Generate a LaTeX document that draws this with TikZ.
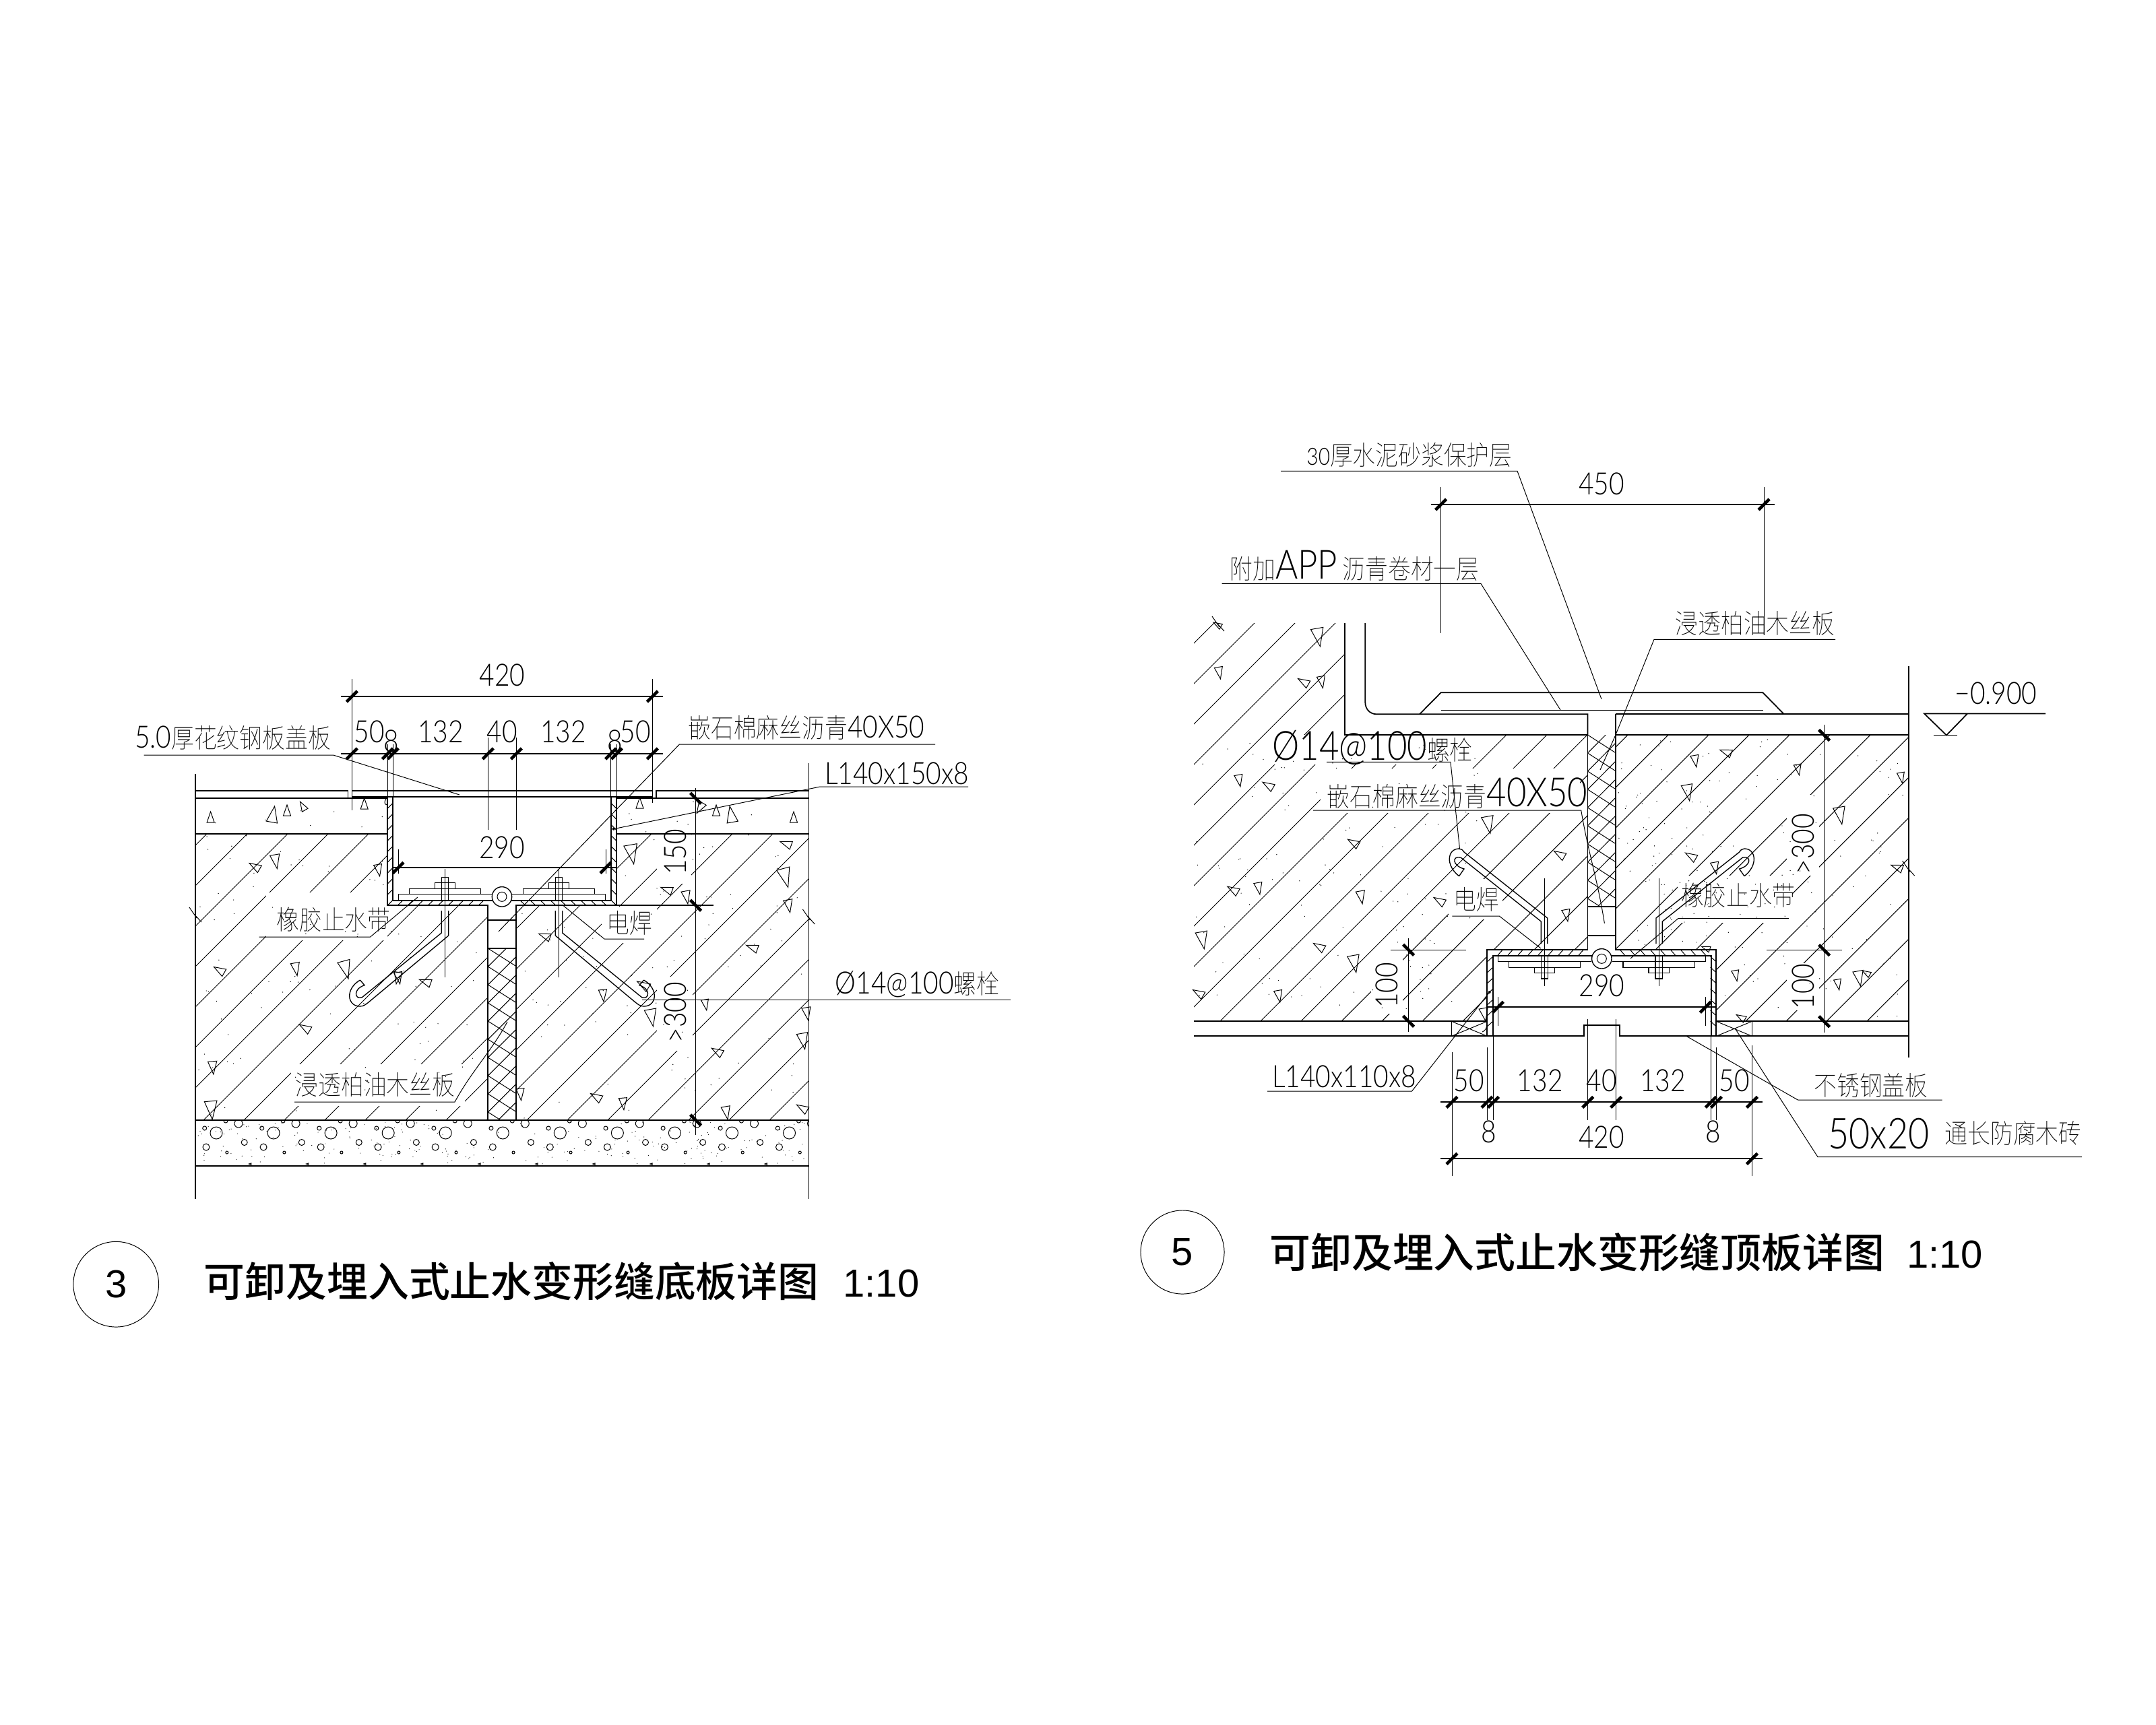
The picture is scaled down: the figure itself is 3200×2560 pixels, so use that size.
\documentclass[tikz,border=0pt]{standalone}
\usepackage{fontspec}
\setmainfont{Liberation Sans}
\newfontfamily\cadfont{Lato Light}[FakeStretch=.85]
\newfontfamily\cjklt{Noto Sans CJK SC Thin}[FakeStretch=.85,Scale=.87]
\newfontfamily\cjk{Noto Sans CJK SC Medium}

\tikzset{
  thinl/.style={line width=.28pt},
  outl/.style={line width=.5pt},
  barl/.style={line width=.38pt},
  tickl/.style={line width=1.3pt},
  lab/.style={font=\cadfont\fontsize{13}{13}\selectfont, inner sep=0pt},
  ttl/.style={font=\fontsize{16.5}{17}\selectfont, inner sep=0pt},
}
\newcommand{\bigtxt}{\fontsize{17}{17}\selectfont}
\newcommand{\tickf}[2]{\draw [tickl] (#1-8, #2+8) -- (#1+8, #2-8);}
\newcommand{\tickb}[2]{\draw [tickl] (#1-8, #2-8) -- (#1+8, #2+8);}
\newcommand{\tri}[4]{\draw [thinl, shift={(#1, #2)}, rotate=#3] (0, -#4) -- (#4*.55, #4*.6) -- (-#4*.55, #4*.6) -- cycle;}
\newcommand{\brk}[2]{\draw [thinl] (#1-9, #2-10) -- (#1+2, #2+6) -- (#1-1, #2+1) -- (#1+9, #2+12);}
\newcommand{\hookbot}{
  \draw [barl] (534.5, 1455) .. controls (512, 1468) and (515, 1494) .. (534.5, 1494) .. controls (540, 1494) and (543, 1491) .. (547, 1488) -- (665.7, 1389) -- (665.7, 1352);
  \draw [barl] (534.5, 1455) -- (541, 1462.7) .. controls (524, 1468) and (526, 1484) .. (537, 1481) -- (655.3, 1385) -- (655.3, 1352);
  \draw [barl] (591.3, 1336.7) -- (591.3, 1327.3) -- (730, 1327.3);
  \draw [barl] (607.3, 1327.3) -- (607.3, 1319.3) -- (713.7, 1319.3) -- (713.7, 1327.3);
  \draw [barl] (645.3, 1319.3) -- (645.3, 1310.3) -- (675.3, 1310.3) -- (675.3, 1319.3);
  \draw [barl] (655.3, 1336.7) -- (655.3, 1302.3) -- (665.7, 1302.3) -- (665.7, 1336.7);
  \draw [thinl] (660.3, 1290) -- (660.3, 1450.7);
  \foreach \xx in {590, 605, ..., 710} {\draw [thinl] (\xx, 1344.3) -- (\xx+8, 1336.7);}
  \foreach \yy in {1192, 1208, ..., 1336} {\draw [thinl] (575.3, \yy+8) -- (583.3, \yy);}
}
\newcommand{\hooktop}{
  \draw [barl] (2165.6, 1300.7) .. controls (2145, 1285) and (2148, 1260) .. (2165.6, 1260) .. controls (2169, 1260) and (2171, 1262) .. (2173, 1265) -- (2296.7, 1363) -- (2296.7, 1401);
  \draw [barl] (2165.6, 1300.7) -- (2173, 1290) .. controls (2155, 1285) and (2155, 1270) .. (2168, 1273) -- (2287.3, 1368) -- (2287.3, 1401);
  \draw [barl] (2223.3, 1419.3) -- (2223.3, 1427.3) -- (2362, 1427.3);
  \draw [barl] (2239.3, 1427.3) -- (2239.3, 1436.3) -- (2345.7, 1436.3) -- (2345.7, 1427.3);
  \draw [barl] (2277.3, 1436.3) -- (2277.3, 1444.3) -- (2307.7, 1444.3) -- (2307.7, 1436.3);
  \draw [barl] (2287.3, 1419.3) -- (2287.3, 1453) -- (2297.7, 1453) -- (2297.7, 1419.3);
  \draw [thinl] (2292.3, 1304) -- (2292.3, 1464.3);
  \foreach \xx in {2222, 2237, ..., 2342} {\draw [thinl] (\xx, 1419.3) -- (\xx+8, 1410.3);}
  \foreach \yy in {1420, 1436, ..., 1530} {\draw [thinl] (2207.3, \yy+8) -- (2216, \yy);}
}

\begin{document}
\begin{tikzpicture}[x=0.01cm, y=-0.01cm, thinl]
\path [fill=white] (0, 0) rectangle (3200, 2560);
\useasboundingbox (0, 0) rectangle (3200, 2560);

% bottom slab: concrete
\begin{scope}
\clip (290, 1238) -- (575.3, 1238) -- (575.3, 1344.3) -- (724.3, 1344.3) -- (724.3, 1663) -- (290, 1663) -- cycle
      (766.3, 1663) -- (766.3, 1344.3) -- (915.3, 1344.3) -- (915.3, 1238) -- (1200.4, 1238) -- (1200.4, 1663) -- cycle;
\foreach \cc in {1485, 1545, ..., 2865} {\draw (\cc-1150, 1150) -- (\cc-1700, 1700);}
\fill [white] (395, 1325) rectangle (575, 1396);
\fill [white] (432, 1580) rectangle (690, 1642);
\fill [white] (893, 1346) rectangle (975, 1400);
\fill [white] (975, 1235) rectangle (1026, 1312);
\fill [white] (975, 1450) rectangle (1028, 1560);
\end{scope}
\pgfmathsetseed{311}
\foreach \i in {1, ..., 70} {
  \pgfmathsetmacro\px{295+275*rnd}\pgfmathsetmacro\py{1190+470*rnd}
  \fill (\px, \py) circle [radius=.7];
  \pgfmathsetmacro\px{920+275*rnd}\pgfmathsetmacro\py{1190+470*rnd}
  \fill (\px, \py) circle [radius=.7];
}
\foreach \i in {1, ..., 24} {
  \pgfmathsetmacro\px{580+140*rnd}\pgfmathsetmacro\py{1350+310*rnd}
  \fill (\px, \py) circle [radius=.7];
  \pgfmathsetmacro\px{770+140*rnd}\pgfmathsetmacro\py{1350+310*rnd}
  \fill (\px, \py) circle [radius=.7];
}
\tri{312.6}{1215}{0}{10}\tri{405}{1211.7}{-10}{15}\tri{426}{1205}{0}{10}\tri{450}{1198}{30}{9}\tri{540.7}{1195}{0}{10}
\tri{949.5}{1194}{0}{10}\tri{1039.7}{1198}{150}{11}\tri{1063}{1205}{0}{10}\tri{1085.7}{1211.7}{10}{15}\tri{1178}{1215}{0}{10}
\tri{409}{1276.7}{190}{13}\tri{379.6}{1287}{60}{11}\tri{561.7}{1290}{190}{11}\tri{327}{1441}{60}{11}\tri{439}{1436.7}{190}{12}
\tri{512.6}{1436.7}{195}{17}\tri{590}{1450}{170}{11}\tri{632.8}{1458}{70}{11}\tri{454}{1526.7}{60}{11}\tri{315.8}{1583}{185}{12}
\tri{313.6}{1645}{185}{17}\tri{772.5}{1622.7}{185}{11}\tri{895}{1476}{185}{11}\tri{886}{1629}{60}{11}\tri{925}{1636.7}{185}{11}
\tri{956}{1463}{60}{12}\tri{937.5}{1265}{190}{18}\tri{1168}{1253}{70}{11}\tri{991}{1321}{70}{11}\tri{1018.8}{1330}{190}{12}
\tri{1165}{1300}{195}{18}\tri{1170.5}{1343}{190}{12}\tri{1117.9}{1407}{70}{11}\tri{810}{1390}{70}{11}\tri{591.7}{1450}{190}{11}
\tri{966.7}{1508}{190}{16}\tri{1047}{1490}{190}{10}\tri{1065.7}{1561.7}{60}{11}\tri{1078}{1650}{190}{12}\tri{1192}{1645.7}{60}{11}
\tri{1192}{1543}{190}{15}\tri{1197.6}{1503}{190}{12}
% bottom slab: gravel
\begin{scope}
\clip (290, 1663) rectangle (1200.4, 1731);
\foreach \k in {0, ..., 10} {
  \begin{scope}[xshift=\k*0.85cm]
  \draw (321, 1682) circle [radius=9];
  \draw (362.7, 1696) circle [radius=4.5];
  \draw (306, 1703) circle [radius=5];
  \draw (303.7, 1675) circle [radius=3];
  \draw (354, 1668) circle [radius=6];
  \draw (335, 1664) circle [radius=3];
  \draw (336.8, 1711) circle [radius=2];
  \tri{371.6}{1728}{90}{2}
  \end{scope}
}
\foreach \i in {1, ..., 220} {
  \pgfmathsetmacro\px{290+910*rnd}\pgfmathsetmacro\py{1665+64*rnd}
  \fill (\px, \py) circle [radius=.6];
}
\end{scope}
% bottom slab: joint filler
\begin{scope}
\clip (724.3, 1408.3) rectangle (766.3, 1663);
\foreach \yy in {1381, 1408, ..., 1680} {\draw (724.3, \yy) -- (766.3, \yy+26.7);}
\foreach \yy in {1408, 1435, ..., 1720} {\draw (724.3, \yy) -- (766.3, \yy-42);}
\end{scope}
% bottom slab: outlines
\begin{scope}[outl]
\draw (290, 1149) -- (290, 1780);
\draw (1200.4, 1133) -- (1200.4, 1780);
\draw (290, 1174.3) -- (516.6, 1174.3) -- (516.6, 1185.3);
\draw (290, 1185.3) -- (575.3, 1185.3) -- (575.3, 1344.3) -- (724.3, 1344.3) -- (724.3, 1663);
\draw (1200.4, 1174.3) -- (973.7, 1174.3) -- (973.7, 1185.3);
\draw (1200.4, 1185.3) -- (915.3, 1185.3) -- (915.3, 1344.3) -- (766.3, 1344.3) -- (766.3, 1663);
\draw (522.4, 1174.3) -- (968.3, 1174.3);
\draw (522.4, 1183) -- (968.3, 1183);
\draw (583.3, 1183) -- (583.3, 1336.7) -- (906.7, 1336.7) -- (906.7, 1183);
\draw (290, 1238) -- (575.3, 1238) (915.3, 1238) -- (1200.4, 1238);
\draw (290, 1663) -- (1200.4, 1663);
\draw (290, 1731) -- (1200.4, 1731);
\draw (724.3, 1365.7) -- (766.3, 1365.7);
\draw (724.3, 1408.3) -- (766.3, 1408.3);
\end{scope}
\hookbot
\begin{scope}[shift={(1490, 0)}, xscale=-1]
\hookbot
\end{scope}
\draw [barl, fill=white] (745, 1331.3) circle [radius=14.7];
\draw [thinl] (745, 1331.3) circle [radius=7];
\draw [thinl] (575.3, 1195) .. controls (570, 1195) and (570, 1190) .. (573, 1186);
\brk{290}{1357}
\brk{1200.4}{1360}
% bottom slab: dimensions
\begin{scope}[outl]
\draw (505.9, 1034) -- (984.4, 1034);
\draw (505.9, 1119) -- (984.4, 1119);
\draw (583.3, 1288.3) -- (915.3, 1288.3);
\draw (915.3, 1344.3) -- (1059, 1344.3);
\end{scope}
\draw (522.4, 1008) -- (522.4, 1202.7);
\draw (968.3, 1008) -- (968.3, 1192);
\foreach \xx in {575.3, 583.3, 906.7, 915.3} {\draw (\xx, 1105) -- (\xx, 1185);}
\foreach \xx in {724.3, 766.3} {\draw (\xx, 1095) -- (\xx, 1232);}
\foreach \xx in {591, 899} {\draw (\xx, 1261) -- (\xx, 1297);}
\draw (1032.6, 1170) -- (1032.6, 1685);
\tickf{522.4}{1034}\tickf{968.3}{1034}
\foreach \xx in {522.4, 575.3, 583.3, 724.3, 766.3, 906.7, 915.3, 968.3} {\tickf{\xx}{1119}}
\tickf{591}{1288.3}\tickf{899}{1288.3}
\tickb{1032.6}{1185.3}\tickb{1032.6}{1344.3}\tickb{1032.6}{1663}
\node [lab] (botW) at (745.6, 1002.7) {420};
\node [lab] (botA) at (548, 1086.7) {50};
\node [lab] (botB) at (580.4, 1100) {8};
\node [lab] (botC) at (654, 1086.7) {132};
\node [lab] (botD) at (745, 1086.7) {40};
\node [lab] (botE) at (836, 1086.7) {132};
\node [lab] (botF) at (913, 1100) {8};
\node [lab] (botG) at (943, 1086.7) {50};
\node [lab] (botH) at (745, 1258) {290};
\node [lab, rotate=90] (botI) at (1002, 1265) {150};
\node [lab, rotate=90] (botJ) at (1002, 1503) {>300};
% bottom slab: leaders
\node [lab] (plateT) at (345.6, 1095) {5.0{\cjklt 厚花纹钢板盖板}};
\draw (213.5, 1121) -- (494.7, 1121) -- (682, 1180);
\node [lab] (fillT) at (1197, 1080) {{\cjklt 嵌石棉麻丝沥青}40X50};
\draw (1388, 1105) -- (1008.5, 1105) -- (740, 1383);
\node [lab] (angleT) at (1331, 1148) {L140x150x8};
\draw (1437, 1168) -- (1217, 1168) -- (910.7, 1230.7);
\fill (910.7, 1230.7) circle [radius=2];
\node [lab] (rubberT) at (495, 1365) {\cjklt 橡胶止水带};
\draw (384.5, 1391) -- (549.6, 1391) -- (620, 1332);
\node [lab] (weldT) at (934, 1370) {\cjklt 电焊};
\draw (956, 1394) -- (897, 1394) -- (836.6, 1345);
\node [lab] (boltT) at (1361.6, 1461.6) {Ø14@100{\cjklt 螺栓}};
\draw (953, 1484.3) -- (1499.6, 1484.3);
\node [lab] (woodT) at (557, 1610) {\cjklt 浸透柏油木丝板};
\draw (437, 1636) -- (675, 1636) .. controls (700, 1590) and (730, 1560) .. (753, 1517);
% bottom slab: title
\node [draw, circle, minimum size=1.266cm, inner sep=0pt, thinl] (numA) at (172.2, 1906.7) {};
\node [ttl] (numAT) at (172.2, 1906.7) {3};
\node [ttl, anchor=west] (ttlA) at (302.4, 1902) {{\cjk\fontsize{17.3}{18}\selectfont 可卸及埋入式止水变形缝底板详图}\hspace{.36cm}1:10};

% roof slab: concrete
\begin{scope}
\clip (1772, 925) -- (1995.7, 925) -- (1995.7, 1091.3) -- (2356.4, 1091.3) -- (2356.4, 1410.3) -- (2207.3, 1410.3) -- (2207.3, 1516.3) -- (1772, 1516.3) -- cycle
      (2398, 1091.3) -- (2832.6, 1091.3) -- (2832.6, 1516.3) -- (2547.3, 1516.3) -- (2547.3, 1410.3) -- (2398, 1410.3) -- cycle;
\foreach \cc in {2727, 2787, ..., 4347} {\draw (\cc-900, 900) -- (\cc-1550, 1550);}
\fill [white] (1885, 1091.3) rectangle (2185, 1135);
\fill [white] (1960, 1141) rectangle (2345, 1207);
\fill [white] (2150, 1305) rectangle (2230, 1365);
\fill [white] (2035, 1420) rectangle (2082, 1505);
\fill [white] (2490, 1300) rectangle (2660, 1370);
\fill [white] (2652, 1180) rectangle (2700, 1300);
\fill [white] (2652, 1430) rectangle (2700, 1500);
\end{scope}
\foreach \i in {1, ..., 120} {
  \pgfmathsetmacro\px{1775+420*rnd}\pgfmathsetmacro\py{1095+415*rnd}
  \fill (\px, \py) circle [radius=.7];
}
\foreach \i in {1, ..., 90} {
  \pgfmathsetmacro\px{2552+278*rnd}\pgfmathsetmacro\py{1095+415*rnd}
  \fill (\px, \py) circle [radius=.7];
  \pgfmathsetmacro\px{2402+148*rnd}\pgfmathsetmacro\py{1095+310*rnd}
  \fill (\px, \py) circle [radius=.7];
}
\tri{1956.4}{943}{190}{17}\tri{1809.5}{997}{190}{11}\tri{1936}{1013}{60}{11}\tri{1961.5}{1010.7}{190}{11}\tri{1808}{928}{60}{8}
\tri{1839}{1157}{190}{11}\tri{1883.5}{1166.7}{60}{11}\tri{2209}{1221.7}{190}{16}\tri{2010}{1251.7}{60}{11}\tri{1831.4}{1321.7}{60}{11}
\tri{1868}{1317}{190}{11}\tri{2020}{1330}{190}{12}\tri{2137.6}{1338}{60}{11}\tri{2316}{1269}{60}{11}\tri{2325}{1357}{190}{11}
\tri{1784.5}{1393}{190}{16}\tri{1959}{1406}{60}{11}\tri{2010}{1428}{190}{16}\tri{1780}{1475}{60}{11}\tri{1897.8}{1477}{190}{11}
\tri{2202.9}{1504}{190}{12}\tri{2511}{1271.7}{60}{11}\tri{2505}{1174}{190}{15}\tri{2545.7}{1286.7}{190}{11}\tri{2516}{1128}{190}{11}
\tri{2563}{1117}{70}{11}\tri{2668.7}{1140.9}{190}{10}\tri{2821.9}{1153}{190}{10}\tri{2731}{1208}{190}{16}\tri{2817}{1288}{70}{11}
\tri{2576.3}{1446.7}{190}{10}\tri{2728}{1460}{190}{10}\tri{2759}{1450}{190}{14}\tri{2771}{1445}{60}{8}\tri{2585}{1511}{60}{9}\tri{2533}{1408}{70}{8}
% roof slab: joint filler
\begin{scope}
\clip (2356.4, 1091.3) rectangle (2398, 1346);
\foreach \yy in {1064, 1091, ..., 1360} {\draw (2356.4, \yy) -- (2398, \yy+26.7);}
\foreach \yy in {1091, 1118, ..., 1400} {\draw (2356.4, \yy) -- (2398, \yy-42);}
\end{scope}
% roof slab: outlines
\begin{scope}[outl]
\draw (1995.7, 925) -- (1995.7, 1091.3) -- (2356.4, 1091.3) -- (2356.4, 1410.3) -- (2207.3, 1410.3) -- (2207.3, 1538.3);
\draw (2026.3, 925) -- (2026.3, 1043) .. controls (2026.3, 1052) and (2033, 1060.3) .. (2043, 1060.3) -- (2356.4, 1060.3) -- (2356.4, 1091.3);
\draw (2398, 1060.3) -- (2832.6, 1060.3);
\draw (2398, 1060.3) -- (2398, 1410.3) -- (2547.3, 1410.3) -- (2547.3, 1538.3);
\draw (2398, 1091.3) -- (2832.6, 1091.3);
\draw (2832.6, 989) -- (2832.6, 1570);
\draw (2107, 1060.3) -- (2138.6, 1028.3) -- (2616.5, 1028.3) -- (2647.8, 1060.3);
\draw (2138.6, 1054.5) -- (2616.5, 1054.5);
\draw (2356.4, 1346) -- (2398, 1346);
\draw (2356.4, 1389.3) -- (2398, 1389.3);
\draw (2216, 1538.3) -- (2216, 1419.3) -- (2539.7, 1419.3) -- (2539.7, 1538.3);
\draw (1772, 1516.3) -- (2207.3, 1516.3) (2547.3, 1516.3) -- (2832.6, 1516.3);
\draw (1772, 1538.3) -- (2350.7, 1538.3) -- (2350.7, 1522.3) -- (2404.3, 1522.3) -- (2404.3, 1538.3) -- (2832.6, 1538.3);
\end{scope}
\draw (2154.4, 1516.3) rectangle (2207.3, 1538.3);
\draw (2154.4, 1516.3) -- (2207.3, 1538.3) (2154.4, 1538.3) -- (2207.3, 1516.3);
\draw (2547.3, 1516.3) rectangle (2600.4, 1538.3);
\draw (2547.3, 1516.3) -- (2600.4, 1538.3) (2547.3, 1538.3) -- (2600.4, 1516.3);
\draw [thinl] (2207.3, 1518) .. controls (2207, 1528) and (2203, 1531) .. (2200, 1532);
\hooktop
\begin{scope}[shift={(4754.6, 0)}, xscale=-1]
\hooktop
\end{scope}
\draw [barl, fill=white] (2377.3, 1423.3) circle [radius=14.7];
\draw [thinl] (2377.3, 1423.3) circle [radius=7];
\brk{1808}{925}
\brk{2832.6}{1288}
% roof slab: dimensions
\begin{scope}[outl]
\draw (2124, 749) -- (2634, 749);
\draw (2138.4, 1636.3) -- (2616, 1636.3);
\draw (2138.4, 1720.3) -- (2616, 1720.3);
\draw (2207.3, 1495.3) -- (2547.3, 1495.3);
\end{scope}
\draw (2138.6, 723) -- (2138.6, 940);
\draw (2618, 723) -- (2618, 943);
\draw (2155, 1561.7) -- (2155, 1746);
\draw (2600.5, 1551.7) -- (2600.5, 1746);
\foreach \xx in {2207.1, 2547.4} {\draw (\xx, 1555) -- (\xx, 1663);}
\foreach \xx in {2216.5, 2539.3} {\draw (\xx, 1538) -- (\xx, 1663);}
\foreach \xx in {2356.7, 2398.7} {\draw (\xx, 1513) -- (\xx, 1663);}
\foreach \xx in {2223.3, 2531.3} {\draw (\xx, 1480) -- (\xx, 1522.7);}
\draw (2090.6, 1393) -- (2090.6, 1531.7);
\draw (2063.6, 1410.3) -- (2175.8, 1410.3);
\draw (2707.6, 1075.7) -- (2707.6, 1533);
\draw (2621.9, 1410.6) -- (2734, 1410.6);
\tickf{2138.6}{749}\tickf{2618}{749}
\foreach \xx in {2155, 2207.1, 2216.5, 2356.7, 2398.7, 2539.3, 2547.4, 2600.5} {\tickf{\xx}{1636.3}}
\tickf{2155}{1720.3}\tickf{2600.5}{1720.3}
\tickf{2223.3}{1495.3}\tickf{2531.3}{1495.3}
\tickb{2090.6}{1410.3}\tickb{2090.6}{1516.3}
\tickb{2707.6}{1091.5}\tickb{2707.6}{1410.6}\tickb{2707.6}{1516.8}
\node [lab] (topW) at (2377, 718) {450};
\node [lab] (topA) at (2180, 1604) {50};
\node [lab] (topB) at (2210, 1680) {8};
\node [lab] (topC) at (2285.7, 1604) {132};
\node [lab] (topD) at (2377, 1604) {40};
\node [lab] (topE) at (2468, 1604) {132};
\node [lab] (topF) at (2543, 1680) {8};
\node [lab] (topG) at (2574, 1604) {50};
\node [lab] (topH) at (2377, 1688) {420};
\node [lab] (topI) at (2377.3, 1463) {290};
\node [lab, rotate=90] (topJ) at (2058.5, 1463) {100};
\node [lab, rotate=90] (topK) at (2676, 1464.5) {100};
\node [lab, rotate=90] (topL) at (2676, 1253) {>300};
% roof slab: level mark
\node [lab] (levelT) at (2962.5, 1028.8) {−0.900};
\draw [outl] (3036, 1059.5) -- (2856, 1059.5) -- (2889, 1091.5) -- (2920, 1059.5);
\draw [outl] (2870, 1091.5) -- (2904.5, 1091.5);
% roof slab: leaders
\node [lab] (screedT) at (2092, 675) {{\fontsize{10}{10}\selectfont 30}{\cjklt 厚水泥砂浆保护层}};
\draw (1901, 699.3) -- (2252, 699.3) -- (2377, 1038);
\node [lab] (feltT) at (2010.5, 840) {{\cjklt 附加}{\bigtxt APP}\,{\cjklt 沥青卷材一层}};
\draw (1813.6, 866.3) -- (2197.8, 866.3) -- (2316, 1054);
\node [lab] (woodU) at (2605, 925) {\cjklt 浸透柏油木丝板};
\draw (2724, 949.3) -- (2455, 949.3) -- (2397.8, 1091.3) -- (2375, 1143);
\node [lab] (boltU) at (2037, 1110) {{\bigtxt Ø14@100}{\cjklt 螺栓}};
\draw (1969, 1131.3) -- (2152.9, 1131.3) -- (2166.6, 1261);
\node [lab] (fillU) at (2163, 1178) {{\cjklt 嵌石棉麻丝沥青}{\bigtxt 40X50}};
\draw (1948.8, 1203) -- (2346.7, 1203) .. controls (2358, 1270) and (2370, 1300) .. (2381.4, 1370.7);
\node [lab] (weldU) at (2191, 1335) {\cjklt 电焊};
\draw (2155.4, 1360) -- (2225.3, 1360) -- (2287, 1408);
\node [lab] (rubberU) at (2579.5, 1329.7) {\cjklt 橡胶止水带};
\draw (2655, 1363.7) -- (2490.6, 1363.7) -- (2420, 1423);
\node [lab] (angleU) at (1995, 1598) {L140x110x8};
\draw (1881, 1620) -- (2095.5, 1620) -- (2210.7, 1473);
\fill (2210.7, 1473) circle [radius=2];
\node [lab] (plateU) at (2777, 1611.7) {\cjklt 不锈钢盖板};
\draw (2882.7, 1633) -- (2668.4, 1633) -- (2503, 1538.3);
\node [lab, anchor=west] (woodV) at (2713, 1682.7) {\fontsize{18}{18}\selectfont 50x20};
\node [lab, anchor=east] (woodW) at (3090, 1682.7) {\cjklt 通长防腐木砖};
\draw (3089.8, 1717.7) -- (2698, 1717.7) -- (2575.5, 1527.3);
% roof slab: title
\node [draw, circle, minimum size=1.24cm, inner sep=0pt, thinl] (numB) at (1755, 1859) {};
\node [ttl] (numBT) at (1755, 1859) {5};
\node [ttl, anchor=west] (ttlB) at (1884, 1859) {{\cjk\fontsize{17.3}{18}\selectfont 可卸及埋入式止水变形缝顶板详图}\hspace{.33cm}1:10};
\end{tikzpicture}
\end{document}
